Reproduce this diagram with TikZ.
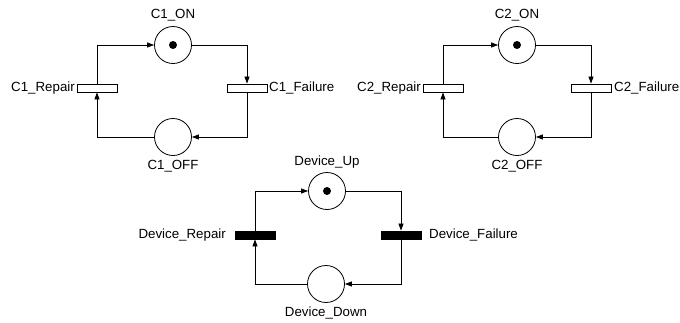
\documentclass[tikz,border=0pt]{standalone}
\usepackage{fontspec}
\setmainfont{Liberation Sans}
\usetikzlibrary{arrows.meta}
\begin{document}
\begin{tikzpicture}[x=1pt,y=-1pt,
  place/.style={circle,draw,line width=0.8pt,minimum size=37pt,inner sep=0pt},
  trans/.style={rectangle,draw,line width=0.8pt,minimum width=40pt,minimum height=8pt,inner sep=0pt},
  btrans/.style={trans,fill=black},
  tok/.style={circle,fill=black,minimum size=8pt,inner sep=0pt},
  arc/.style={draw,line width=0.7pt,-{Triangle[length=7pt,width=5pt]}},
  lbl/.style={font=\fontsize{13.3}{15}\selectfont,inner sep=0pt}]
\useasboundingbox (0,0) rectangle (680,322);
% Net 1
\node[place] (on1) at (173,45) {};
\node[tok] (t1) at (on1) {};
\node[place] (off1) at (173,137) {};
\node[trans] (rep1) at (97,88) {};
\node[trans] (fail1) at (247,88) {};
\node[lbl] (on1l) at (173,15) {C1\_ON};
\node[lbl] (off1l) at (173,166) {C1\_OFF};
\node[lbl,anchor=east] (rep1l) at (75,88) {C1\_Repair};
\node[lbl,anchor=west] (fail1l) at (269,88) {C1\_Failure};
\draw[arc] (rep1.north) |- (on1.west);
\draw[arc] (on1.east) -| (fail1.north);
\draw[arc] (fail1.south) |- (off1.east);
\draw[arc] (off1.west) -| (rep1.south);
% Net 2
\node[place] (on2) at (517,45) {};
\node[tok] (t2) at (on2) {};
\node[place] (off2) at (517,137) {};
\node[trans] (rep2) at (443,88) {};
\node[trans] (fail2) at (591,88) {};
\node[lbl] (on2l) at (517,15) {C2\_ON};
\node[lbl] (off2l) at (517,166) {C2\_OFF};
\node[lbl,anchor=east] (rep2l) at (421,88) {C2\_Repair};
\node[lbl,anchor=west] (fail2l) at (614,88) {C2\_Failure};
\draw[arc] (rep2.north) |- (on2.west);
\draw[arc] (on2.east) -| (fail2.north);
\draw[arc] (fail2.south) |- (off2.east);
\draw[arc] (off2.west) -| (rep2.south);
% Net 3
\node[place] (up) at (327,191) {};
\node[tok] (t3) at (up) {};
\node[place] (down) at (326,284) {};
\node[btrans] (drep) at (255,235) {};
\node[btrans] (dfail) at (401,235) {};
\node[lbl] (upl) at (327,162) {Device\_Up};
\node[lbl] (downl) at (326,313) {Device\_Down};
\node[lbl,anchor=east] (drepl) at (226,235) {Device\_Repair};
\node[lbl,anchor=west] (dfaill) at (429,235) {Device\_Failure};
\draw[arc] (drep.north) |- (up.west);
\draw[arc] (up.east) -| (dfail.north);
\draw[arc] (dfail.south) |- (down.east);
\draw[arc] (down.west) -| (drep.south);
\end{tikzpicture}
\end{document}
